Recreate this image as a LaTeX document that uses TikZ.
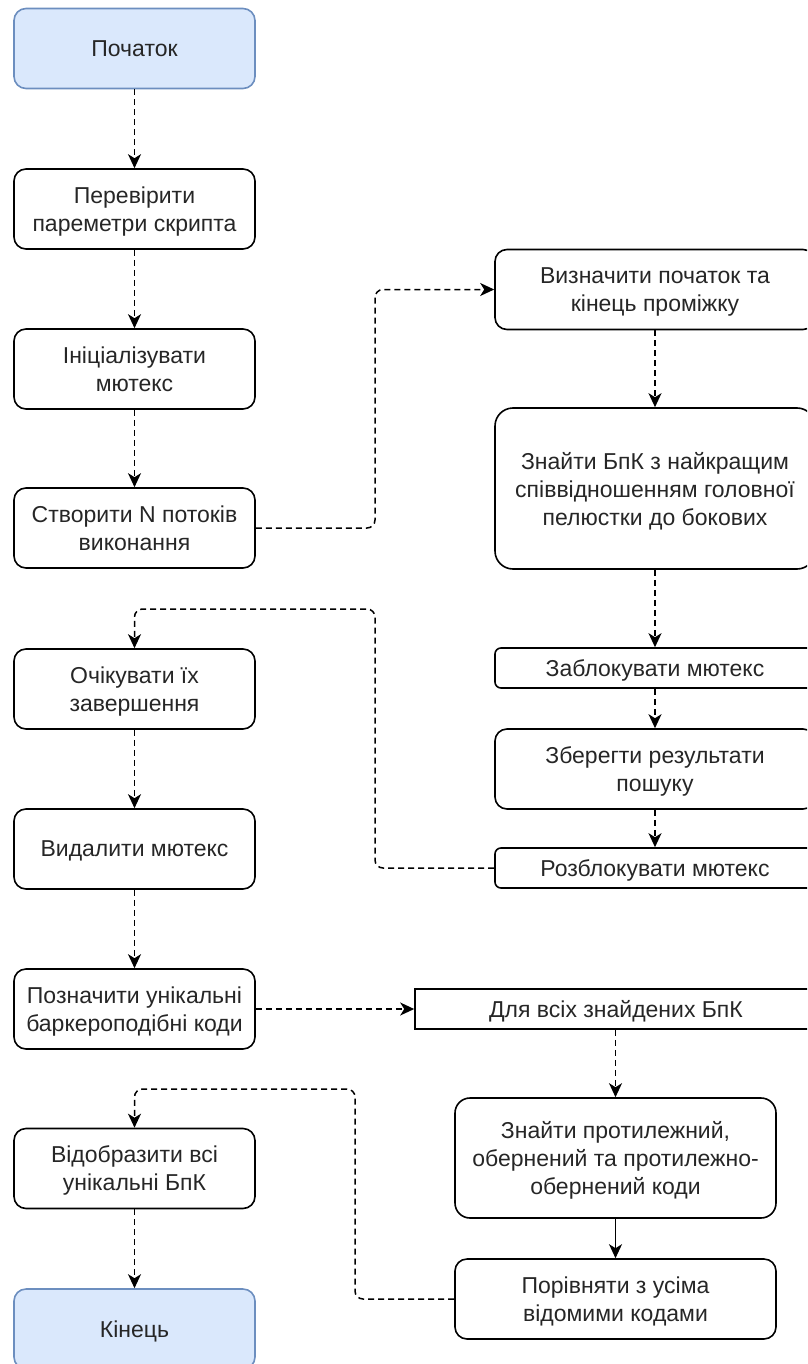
\documentclass[tikz,border=0pt]{standalone}
\usepackage{fontspec}
\setmainfont{Liberation Sans}
\usetikzlibrary{arrows.meta}
\definecolor{bfill}{HTML}{DAE8FC}
\definecolor{bdraw}{HTML}{6C8EBF}
\begin{document}
\begin{tikzpicture}[x=1pt,y=-1pt,
  base/.style={draw=black,line width=1.6pt,align=center,inner sep=0pt,
    font=\fontsize{23}{28}\selectfont,text=black!85,text depth=0pt},
  lbox/.style={base,rounded corners=12pt,minimum width=241pt,minimum height=80pt},
  term/.style={lbox,draw=bdraw,fill=bfill},
  rbox/.style={base,rounded corners=12pt,minimum width=320pt,minimum height=80pt},
  thin/.style={base,rounded corners=6pt,minimum width=320pt,minimum height=40pt},
  conn/.style={line width=1.5pt,dash pattern=on 6pt off 4pt,rounded corners=8pt,
    -{Stealth[length=14pt,width=13pt,inset=4pt]}},
  sconn/.style={line width=1.5pt,-{Stealth[length=14pt,width=13pt,inset=4pt]}}]
\useasboundingbox (0,0) rectangle (807,1364);
\begin{scope}
\clip (0,0) rectangle (807,1364);
% left column
\node[term] (start) at (134.5,48.5) {Початок};
\node[lbox] (check) at (134.5,209) {Перевірити\\пареметри скрипта};
\node[lbox] (init) at (134.5,369) {Ініціалізувати\\мютекс};
\node[lbox] (create) at (134.5,528) {Створити N потоків\\виконання};
\node[lbox] (wait) at (134.5,689) {Очікувати їх\\завершення};
\node[lbox] (del) at (134.5,849) {Видалити мютекс};
\node[lbox] (mark) at (134.5,1009) {Позначити унікальні\\баркероподібні коди};
\node[lbox] (show) at (134.5,1168.5) {Відобразити всі\\унікальні БпК};
\node[term] (end) at (134.5,1329) {Кінець};
% right column
\node[rbox] (range) at (655,289.5) {Визначити початок та\\кінець проміжку};
\node[rbox,minimum height=161pt,rounded corners=18pt] (find) at (655,488.5) {Знайти БпК з найкращим\\співвідношенням головної\\пелюстки до бокових};
\node[thin] (lock) at (655,668) {Заблокувати мютекс};
\node[rbox] (save) at (655,769) {Зберегти результати\\пошуку};
\node[thin] (unlock) at (655,868) {Розблокувати мютекс};
\node[base,minimum width=402pt,minimum height=40pt] (all) at (616,1009) {Для всіх знайдених БпК};
\node[rbox,minimum width=321pt,minimum height=120pt,rounded corners=15pt] (opp) at (615.5,1158) {Знайти протилежний,\\обернений та протилежно-\\обернений коди};
\node[rbox,minimum width=321pt] (cmp) at (615.5,1299) {Порівняти з усіма\\відомими кодами};
% connectors
\draw[conn] (start) -- (check);
\draw[conn] (check) -- (init);
\draw[conn] (init) -- (create);
\draw[conn] (create.east) -- (375,528) -- (375,289.5) -- (range.west);
\draw[conn] (range) -- (find);
\draw[conn] (find) -- (lock);
\draw[conn] (lock) -- (save);
\draw[conn] (save) -- (unlock);
\draw[conn] (unlock.west) -- (375,868) -- (375,609) -- (134.5,609) -- (wait.north);
\draw[conn] (wait) -- (del);
\draw[conn] (del) -- (mark);
\draw[conn] (mark.east) -- (all.west);
\draw[conn] (all.south -| opp.north) -- (opp.north);
\draw[sconn] (opp) -- (cmp);
\draw[conn] (cmp.west) -- (355,1299) -- (355,1089) -- (134.5,1089) -- (show.north);
\draw[conn] (show) -- (end);
\end{scope}
\end{tikzpicture}
\end{document}
